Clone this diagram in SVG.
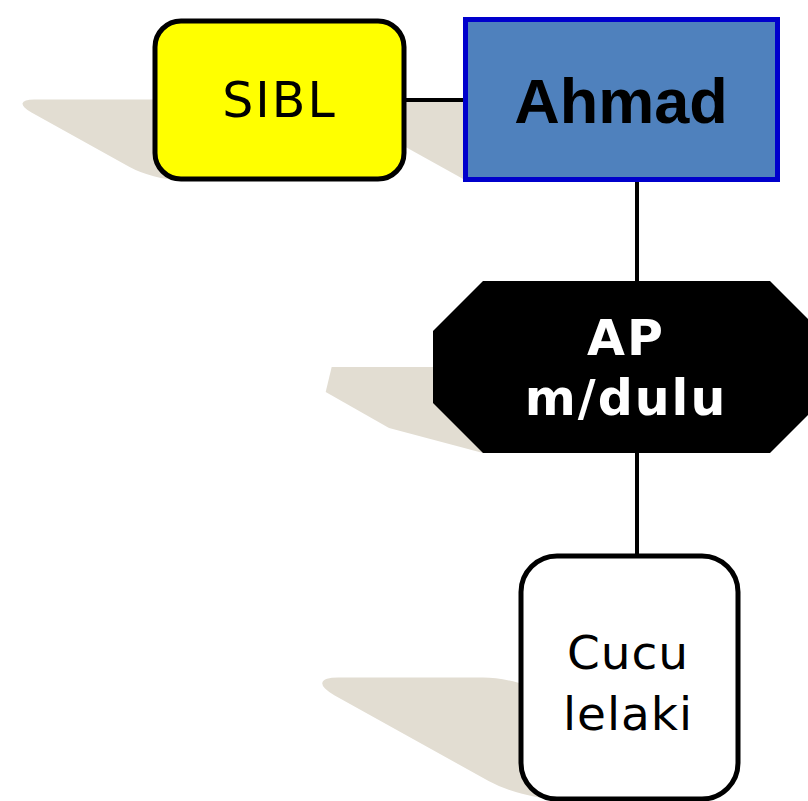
<svg xmlns="http://www.w3.org/2000/svg" width="808" height="801" viewBox="0 0 808 801">
<style>
.shadow{fill:#e2ddd2;stroke:none}
.conn{stroke:#000;stroke-width:4;fill:none}
.t{font-family:"DejaVu Sans",Verdana,sans-serif;text-anchor:middle}
</style>
<rect width="808" height="801" fill="#fff"/>
<g id="shadows">
<rect class="shadow" x="153" y="19" width="252" height="161" rx="26" transform="matrix(1,0,0.9,0.5,-162,90)"/>
<rect class="shadow" x="465" y="19" width="313" height="161" transform="matrix(1,0,0.9,0.5,-162,90)"/>
<polygon class="shadow" points="483,281 770,281 820,331 820,403 770,453 483,453 433,403 433,331" transform="matrix(1,0,0.88,0.5,-398.6,226.5)"/>
<rect class="shadow" x="521" y="556" width="217" height="243" rx="36" transform="matrix(1,0,0.9,0.5,-719.1,399.5)"/>
</g>
<g id="connectors">
<line class="conn" x1="405" y1="100" x2="465" y2="100"/>
<line class="conn" x1="637" y1="180" x2="637" y2="282"/>
<line class="conn" x1="637" y1="452" x2="637" y2="556"/>
</g>
<g id="SIBL">
<rect x="155" y="21" width="249" height="158" rx="26" fill="#ffff00" stroke="#000" stroke-width="5"/>
<text class="t" x="279.5" y="117" font-size="49" letter-spacing="2">SIBL</text>
</g>
<g id="Ahmad">
<rect x="465.5" y="19.5" width="312" height="160" fill="#4f81bd" stroke="#0000cc" stroke-width="5"/>
<text x="621" y="123" font-family="'Liberation Sans',Arial,sans-serif" font-weight="bold" font-size="63" text-anchor="middle">Ahmad</text>
</g>
<g id="APmdulu">
<polygon points="483,281 770,281 820,331 820,403 770,453 483,453 433,403 433,331" fill="#000"/>
<text class="t" x="626" y="355" font-size="49" font-weight="bold" fill="#fff" letter-spacing="2">AP</text>
<text class="t" x="626" y="415" font-size="49" font-weight="bold" fill="#fff" letter-spacing="2">m/dulu</text>
</g>
<g id="Cucu">
<rect x="521" y="556" width="217" height="243" rx="36" fill="#fff" stroke="#000" stroke-width="5"/>
<text class="t" x="628" y="669" font-size="47" letter-spacing="1">Cucu</text>
<text class="t" x="628" y="730" font-size="47" letter-spacing="1">lelaki</text>
</g>
</svg>
